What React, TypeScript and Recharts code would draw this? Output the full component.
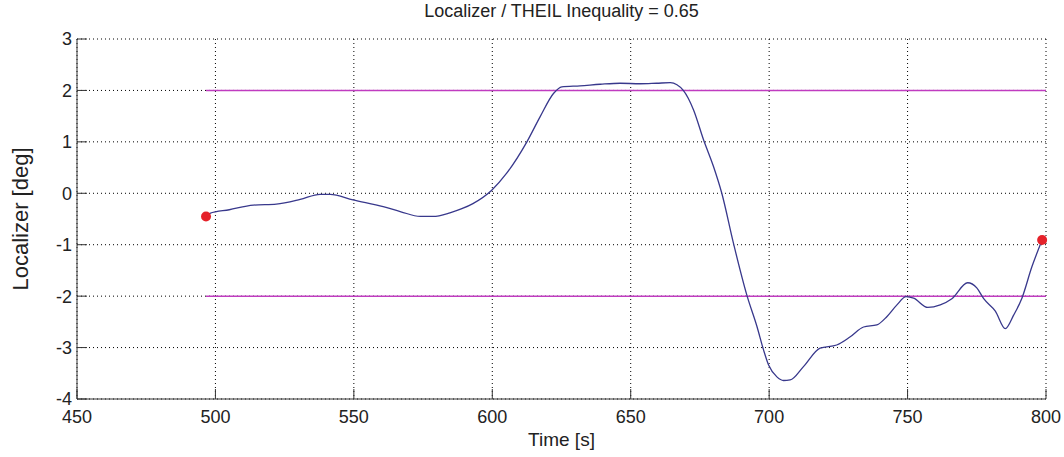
import React from 'react';
import {
    LineChart,
    Line,
    XAxis,
    YAxis,
    CartesianGrid,
    ReferenceLine,
    ReferenceDot,
} from 'recharts';

// time [s] and localizer deviation [deg]
const times = [
    496.6, 498, 505, 513.7, 522, 530.6, 537.8, 541.4, 549.7, 560.6,
    567, 574, 578.6, 584.7, 589, 593, 599.8, 605.2, 612.5, 617.3,
    622.1, 625.1, 631.7, 639, 646.2, 653.4, 659.4, 664.3, 666.7, 669,
    672.7, 676.3, 679.9, 682.9, 687.1, 692, 695.6, 698, 699.8, 702.8,
    705.2, 707.6, 712.4, 718.4, 724.4, 729.3, 734.1, 738.9, 742.5, 746,
    749.5, 752.2, 757.3, 761.8, 766, 771.7, 775, 777.5, 781.7, 785.3,
    788.3, 791.3, 794.9, 798.6,
];
const localizer = [
    -0.45, -0.39, -0.32, -0.23, -0.21, -0.12, -0.02, -0.02, -0.13, -0.26,
    -0.36, -0.45, -0.45, -0.38, -0.3, -0.2, 0.06, 0.39, 1.0, 1.49,
    1.94, 2.07, 2.09, 2.12, 2.14, 2.13, 2.14, 2.15, 2.11, 2.0,
    1.62, 1.04, 0.52, 0.0, -0.97, -1.99, -2.59, -3.05, -3.34, -3.57,
    -3.64, -3.63, -3.37, -3.01, -2.95, -2.79, -2.6, -2.56, -2.4, -2.18,
    -2.01, -2.04, -2.22, -2.17, -2.05, -1.74, -1.84, -2.05, -2.29, -2.63,
    -2.37, -2.04, -1.43, -0.91,
];

const xTicks = [450, 500, 550, 600, 650, 700, 750, 800];
const yTicks = [-4, -3, -2, -1, 0, 1, 2, 3];

// tolerance band
const limitUpper = 2;
const limitLower = -2;
const limitEnd = 800;

const data = times.map((t, i) => ({t, v: localizer[i]}));

const FONT = '"Liberation Sans", Arial, Helvetica, sans-serif';
const AXIS = '#333333';

const YLabel = ({viewBox}: any) => {
    const cx = viewBox.x + 20;
    const cy = viewBox.y + viewBox.height / 2;
    return (
        <text
            x={cx}
            y={cy}
            transform={`rotate(-90, ${cx}, ${cy})`}
            textAnchor="middle"
            dominantBaseline="central"
            fontFamily={FONT}
            fontSize={22}
            fill="#222"
        >
            Localizer [deg]
        </text>
    );
};

const App = () => {
    return (
        <div style={{position: 'absolute', left: 0, top: 0, width: 1064, height: 457, background: '#fff'}}>
            <div
                style={{
                    position: 'absolute',
                    left: 77,
                    width: 969,
                    top: 1,
                    textAlign: 'center',
                    fontFamily: FONT,
                    fontSize: 18,
                    color: '#222',
                }}
            >
                Localizer / THEIL Inequality = 0.65
            </div>
            <LineChart
                width={1064}
                height={457}
                data={data}
                margin={{top: 39, right: 18, bottom: 28, left: 0}}
                style={{fontFamily: FONT}}
            >
                <CartesianGrid stroke="#000" strokeDasharray="1 3" strokeWidth={1}/>
                <XAxis
                    dataKey="t"
                    type="number"
                    domain={[450, 800]}
                    ticks={xTicks}
                    interval={0}
                    height={30}
                    tickSize={-10}
                    tickMargin={21}
                    stroke={AXIS}
                    tick={{fill: '#222', fontSize: 18}}
                    label={{value: 'Time [s]', position: 'bottom', offset: 4, fill: '#222', fontSize: 19}}
                />
                <XAxis
                    xAxisId="top"
                    orientation="top"
                    type="number"
                    domain={[450, 800]}
                    ticks={xTicks}
                    interval={0}
                    height={0}
                    tickSize={-10}
                    tick={false}
                    stroke={AXIS}
                />
                <YAxis
                    type="number"
                    domain={[-4, 3]}
                    ticks={yTicks}
                    interval={0}
                    width={77}
                    tickSize={-10}
                    tickMargin={15}
                    stroke={AXIS}
                    tick={{fill: '#222', fontSize: 18}}
                    label={<YLabel/>}
                />
                <YAxis
                    yAxisId="right"
                    orientation="right"
                    type="number"
                    domain={[-4, 3]}
                    ticks={yTicks}
                    interval={0}
                    width={0}
                    tickSize={-10}
                    tick={false}
                    stroke={AXIS}
                />
                <ReferenceLine
                    segment={[{x: times[0], y: limitUpper}, {x: limitEnd, y: limitUpper}]}
                    stroke="#c03cc0"
                    strokeWidth={1.5}
                />
                <ReferenceLine
                    segment={[{x: times[0], y: limitLower}, {x: limitEnd, y: limitLower}]}
                    stroke="#c03cc0"
                    strokeWidth={1.5}
                />
                <Line
                    dataKey="v"
                    type="monotone"
                    stroke="#38388c"
                    strokeWidth={1.3}
                    dot={false}
                    isAnimationActive={false}
                />
                <ReferenceDot x={times[0]} y={localizer[0]} r={5} fill="#e5222a" stroke="none"/>
                <ReferenceDot
                    x={times[times.length - 1]}
                    y={localizer[localizer.length - 1]}
                    r={5}
                    fill="#e5222a"
                    stroke="none"
                />
            </LineChart>
        </div>
    );
};

export default App;
